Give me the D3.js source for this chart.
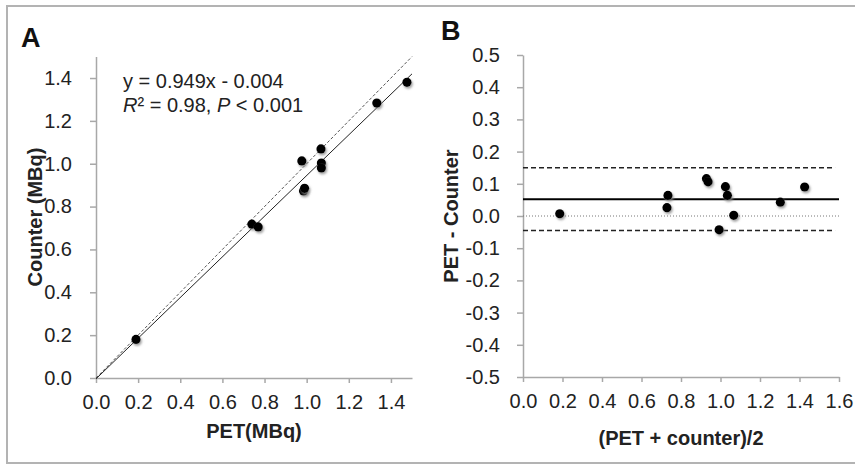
<!DOCTYPE html>
<html>
<head>
<meta charset="utf-8">
<script src="https://cdn.jsdelivr.net/npm/d3@7"></script>
<style>
  body { margin: 0; background: #fff; }
  text { font-family: "Liberation Sans", Arial, sans-serif; }
</style>
</head>
<body>
<div id="chart"></div>
<script>
// panel A: PET vs counter
var petA = [0.19, 0.74, 0.77, 0.977, 0.985, 0.99, 1.068, 1.07, 1.07, 1.333, 1.476];
var counterA = [0.18, 0.718, 0.705, 1.013, 0.873, 0.885, 1.069, 1.003, 0.98, 1.283, 1.38];
var slope = 0.949;
var intercept = -0.004;
var ticksA = [0, 0.2, 0.4, 0.6, 0.8, 1.0, 1.2, 1.4];

// panel B: bland-altman
var meanB = [0.186, 0.729, 0.734, 0.929, 0.937, 0.993, 1.025, 1.035, 1.067, 1.303, 1.426];
var diffB = [0.007, 0.026, 0.064, 0.116, 0.106, -0.043, 0.091, 0.064, 0.002, 0.043, 0.09];
var biasB = 0.052;
var upperB = 0.15;
var lowerB = -0.045;
var xTicksB = [0, 0.2, 0.4, 0.6, 0.8, 1.0, 1.2, 1.4, 1.6];
var yTicksB = [-0.5, -0.4, -0.3, -0.2, -0.1, 0, 0.1, 0.2, 0.3, 0.4, 0.5];

var svgWidth = 855;
var svgHeight = 466;

var svg = d3
  .select("#chart")
  .append("svg")
  .attr("width", svgWidth)
  .attr("height", svgHeight);

// drop shadow for the dots
var filter = svg.append("defs").append("filter")
  .attr("id", "shadow")
  .attr("x", "-50%").attr("y", "-50%")
  .attr("width", "200%").attr("height", "200%");
filter.append("feDropShadow")
  .attr("dx", 1.2).attr("dy", 1.8)
  .attr("stdDeviation", 1.2)
  .attr("flood-color", "#888")
  .attr("flood-opacity", 0.8);

// outer frame
svg.append("rect")
  .attr("x", 7).attr("y", 6)
  .attr("width", 860).attr("height", 457)
  .attr("fill", "none")
  .attr("stroke", "#b3b3b3")
  .attr("stroke-width", 2);

// plain hyphen for negatives, like the original
var fmt = (d) => d3.format(".1f")(d).replace("\u2212", "-");

function styleAxis(g) {
  g.selectAll(".domain, .tick line")
    .attr("stroke", "#a8a8a8")
    .attr("stroke-width", 1.5);
  g.selectAll("text")
    .attr("fill", "#222")
    .style("font-size", "20px");
}

// ---------- panel A ----------
var xA = d3.scaleLinear().domain([0, 1.5]).range([96, 412]);
var yA = d3.scaleLinear().domain([0, 1.5]).range([378, 56.6]);

var gA = svg.append("g");

gA.append("g")
  .attr("transform", "translate(0,378)")
  .call(d3.axisBottom(xA).tickValues(ticksA).tickFormat(fmt).tickSize(5).tickPadding(12).tickSizeOuter(0))
  .call(styleAxis);

gA.append("g")
  .attr("transform", "translate(96,0)")
  .call(d3.axisLeft(yA).tickValues(ticksA).tickFormat(fmt).tickSize(6).tickPadding(18).tickSizeOuter(0))
  .call(styleAxis);

// identity line (dashed) and regression line
gA.append("line")
  .attr("x1", xA(0)).attr("y1", yA(0))
  .attr("x2", xA(1.5)).attr("y2", yA(1.5))
  .attr("stroke", "#555")
  .attr("stroke-width", 1)
  .attr("stroke-dasharray", "3,2");

gA.append("line")
  .attr("x1", xA(0)).attr("y1", yA(slope * 0 + intercept))
  .attr("x2", xA(1.5)).attr("y2", yA(slope * 1.5 + intercept))
  .attr("stroke", "#222")
  .attr("stroke-width", 1);

gA.selectAll("circle")
  .data(petA)
  .enter()
  .append("circle")
  .attr("cx", (d) => xA(d))
  .attr("cy", (d, i) => yA(counterA[i]))
  .attr("r", 4.6)
  .attr("fill", "#000")
  .attr("filter", "url(#shadow)");

gA.append("text")
  .attr("x", 123).attr("y", 88)
  .attr("fill", "#222")
  .style("font-size", "20px")
  .text("y = " + slope + "x - " + Math.abs(intercept).toFixed(3));

var r2 = gA.append("text")
  .attr("x", 123).attr("y", 112)
  .attr("fill", "#222")
  .style("font-size", "20px");
r2.append("tspan").style("font-style", "italic").text("R");
r2.append("tspan").text("² = 0.98, ");
r2.append("tspan").style("font-style", "italic").text("P");
r2.append("tspan").text(" < 0.001");

gA.append("text")
  .attr("x", 254).attr("y", 438)
  .attr("text-anchor", "middle")
  .attr("fill", "#222")
  .style("font-size", "20px")
  .style("font-weight", "bold")
  .text("PET(MBq)");

gA.append("text")
  .attr("transform", "translate(42,217) rotate(-90)")
  .attr("text-anchor", "middle")
  .attr("fill", "#222")
  .style("font-size", "20px")
  .style("font-weight", "bold")
  .text("Counter (MBq)");

gA.append("text")
  .attr("x", 21).attr("y", 47)
  .attr("fill", "#111")
  .style("font-size", "27px")
  .style("font-weight", "bold")
  .text("A");

// ---------- panel B ----------
var xB = d3.scaleLinear().domain([0, 1.6]).range([523, 839]);
var yB = d3.scaleLinear().domain([-0.5, 0.5]).range([377, 55]);

var gB = svg.append("g");

gB.append("g")
  .attr("transform", "translate(0,377)")
  .call(d3.axisBottom(xB).tickValues(xTicksB).tickFormat(fmt).tickSize(5).tickPadding(12).tickSizeOuter(0))
  .call(styleAxis);

gB.append("g")
  .attr("transform", "translate(523,0)")
  .call(d3.axisLeft(yB).tickValues(yTicksB).tickFormat(fmt).tickSize(6).tickPadding(17).tickSizeOuter(0))
  .call(styleAxis);

// zero, bias and limits of agreement
gB.append("line")
  .attr("x1", xB(0)).attr("x2", xB(1.6))
  .attr("y1", yB(0)).attr("y2", yB(0))
  .attr("stroke", "#777")
  .attr("stroke-width", 1)
  .attr("stroke-dasharray", "1,2");

gB.append("line")
  .attr("x1", xB(0)).attr("x2", xB(1.6))
  .attr("y1", yB(biasB)).attr("y2", yB(biasB))
  .attr("stroke", "#000")
  .attr("stroke-width", 2);

gB.selectAll(".loa")
  .data([upperB, lowerB])
  .enter()
  .append("line")
  .attr("class", "loa")
  .attr("x1", xB(0)).attr("x2", xB(1.58))
  .attr("y1", (d) => yB(d)).attr("y2", (d) => yB(d))
  .attr("stroke", "#222")
  .attr("stroke-width", 1.5)
  .attr("stroke-dasharray", "5,3");

gB.selectAll("circle")
  .data(meanB)
  .enter()
  .append("circle")
  .attr("cx", (d) => xB(d))
  .attr("cy", (d, i) => yB(diffB[i]))
  .attr("r", 4.6)
  .attr("fill", "#000")
  .attr("filter", "url(#shadow)");

gB.append("text")
  .attr("x", 681).attr("y", 445)
  .attr("text-anchor", "middle")
  .attr("fill", "#222")
  .style("font-size", "20px")
  .style("font-weight", "bold")
  .text("(PET + counter)/2");

gB.append("text")
  .attr("transform", "translate(458,216) rotate(-90)")
  .attr("text-anchor", "middle")
  .attr("fill", "#222")
  .style("font-size", "20px")
  .style("font-weight", "bold")
  .text("PET - Counter");

gB.append("text")
  .attr("x", 441).attr("y", 40)
  .attr("fill", "#111")
  .style("font-size", "27px")
  .style("font-weight", "bold")
  .text("B");
</script>
</body>
</html>
